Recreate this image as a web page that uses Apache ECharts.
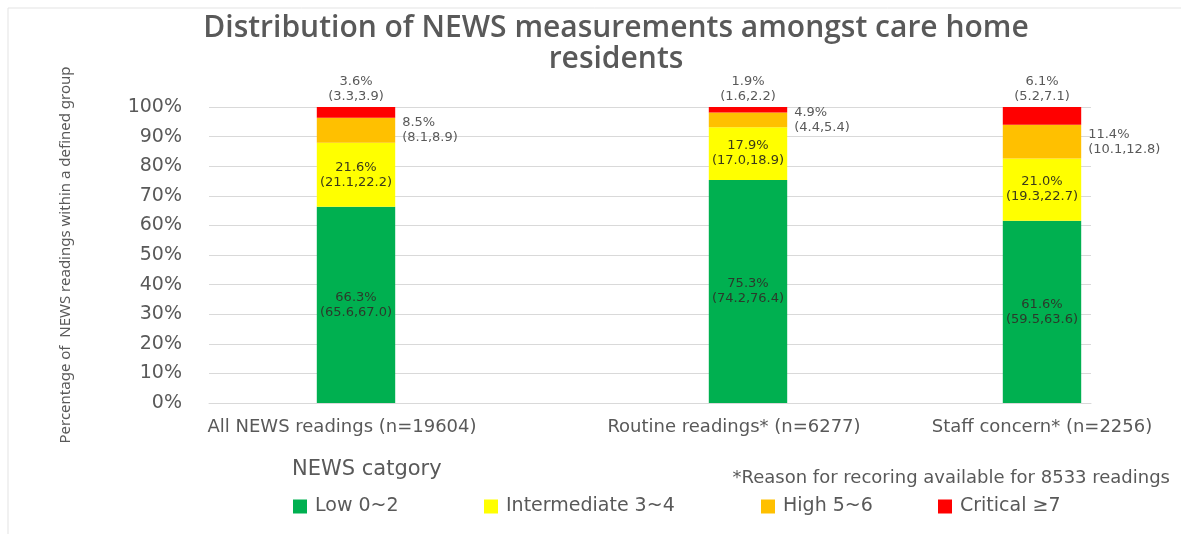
<!DOCTYPE html>
<html>
<head>
<meta charset="utf-8">
<script src="https://cdn.jsdelivr.net/npm/echarts@6/dist/echarts.min.js"></script>
<style>
  html, body { margin: 0; padding: 0; background: #fff; }
  #chart { width: 1181px; height: 534px; }
</style>
</head>
<body>
<div id="chart"></div>
<script>
// groups shown on the x axis
var groups = ['All NEWS readings (n=19604)', 'Routine readings* (n=6277)', 'Staff concern* (n=2256)'];
var newsCats = ['Low 0~2', 'Intermediate 3~4', 'High 5~6', 'Critical \u22657'];

// percentages per NEWS category, one value per group
var lowVals = [66.3, 75.3, 61.6];
var interVals = [21.6, 17.9, 21.0];
var highVals = [8.5, 4.9, 11.4];
var critVals = [3.6, 1.9, 6.1];

// 95% CI bounds
var lowCI = [[65.6, 67.0], [74.2, 76.4], [59.5, 63.6]];
var interCI = [[21.1, 22.2], [17.0, 18.9], [19.3, 22.7]];
var highCI = [[8.1, 8.9], [4.4, 5.4], [10.1, 12.8]];
var critCI = [[3.3, 3.9], [1.6, 2.2], [5.2, 7.1]];

var yTicks = [0, 10, 20, 30, 40, 50, 60, 70, 80, 90, 100];

var colors = ['#00B050', '#FFFF00', '#FFC000', '#FF0000'];
var grey = '#595959';
var font = 'DejaVu Sans';

// excel chart left gaps between the columns, so spread them over 9 slots
var slotOf = [1, 5, 8];
var labelShift = [28, 28, 0]; // labels sit a bit left of the bars
var slots = [];
for (var i = 0; i < 9; i++) slots.push('');
slotOf.forEach(function (s, k) {
  slots[s] = { value: groups[k], textStyle: { padding: [0, labelShift[k], 0, 0] } };
});

function spread(vals) {
  var arr = slots.map(function () { return '-'; });
  slotOf.forEach(function (s, k) { arr[s] = vals[k]; });
  return arr;
}

function labelFn(vals, ci) {
  return function (p) {
    var k = slotOf.indexOf(p.dataIndex);
    if (k < 0) return '';
    var c = ci[k];
    return vals[k].toFixed(1) + '%\n(' + c[0].toFixed(1) + ',' + c[1].toFixed(1) + ')';
  };
}

var seriesDefs = [
  { vals: lowVals, ci: lowCI, pos: 'inside', color: '#2b3a2b' },
  { vals: interVals, ci: interCI, pos: 'inside', color: '#3a3a1a' },
  { vals: highVals, ci: highCI, pos: 'right', color: grey },
  { vals: critVals, ci: critCI, pos: 'top', color: grey }
];

var series = seriesDefs.map(function (d, i) {
  return {
    name: newsCats[i],
    type: 'bar',
    stack: 'total',
    barWidth: '80%',
    data: spread(d.vals),
    itemStyle: { color: colors[i] },
    label: {
      show: true,
      position: d.pos,
      distance: d.pos === 'right' ? 7 : 3,
      formatter: labelFn(d.vals, d.ci),
      color: d.color,
      fontFamily: font,
      fontSize: 13,
      lineHeight: 15
    }
  };
});

var legendX = [288, 479, 756, 933];
var legends = newsCats.map(function (n, i) {
  return {
    data: [n],
    left: legendX[i],
    top: 492,
    itemWidth: 14,
    itemHeight: 14,
    itemGap: 6,
    icon: 'rect',
    selectedMode: false,
    textStyle: { color: grey, fontSize: 19, fontFamily: font, padding: [0, 0, 0, 3] }
  };
});

var chart = echarts.init(document.getElementById('chart'));
chart.setOption({
  animation: false,
  title: [
    {
      text: 'Distribution of NEWS measurements amongst care home\nresidents',
      left: 611,
      top: 8,
      textAlign: 'center',
      textStyle: { color: grey, fontSize: 30, fontWeight: 600, fontFamily: 'Open Sans', lineHeight: 31 }
    },
    {
      text: 'NEWS catgory',
      left: 287,
      top: 454,
      textStyle: { color: grey, fontSize: 21, fontWeight: 'normal', fontFamily: font }
    },
    {
      text: '*Reason for recoring available for 8533 readings',
      right: 6,
      top: 464,
      textStyle: { color: grey, fontSize: 18, fontWeight: 'normal', fontFamily: font }
    }
  ],
  legend: legends,
  grid: { left: 209, right: 90, top: 107, bottom: 131 },
  xAxis: {
    type: 'category',
    data: slots,
    axisLine: { lineStyle: { color: '#d9d9d9' } },
    axisTick: { show: false },
    axisLabel: { interval: 0, color: grey, fontSize: 18, fontFamily: font, margin: 15 }
  },
  yAxis: {
    type: 'value',
    min: yTicks[0],
    max: yTicks[yTicks.length - 1],
    interval: yTicks[1] - yTicks[0],
    name: 'Percentage of  NEWS readings within a defined group',
    nameLocation: 'middle',
    nameGap: 136,
    nameTextStyle: { color: grey, fontSize: 15, fontFamily: 'Noto Sans' },
    axisLine: { show: false },
    axisTick: { show: false },
    splitLine: { lineStyle: { color: '#d9d9d9' } },
    axisLabel: { color: grey, fontSize: 19, fontFamily: font, margin: 27, formatter: '{value}%' }
  },
  graphic: [
    {
      type: 'polyline',
      shape: { points: [[8, 534], [8, 8], [1181, 8]] },
      style: { stroke: '#e3e3e3', lineWidth: 1, fill: null }
    }
  ],
  series: series
});
</script>
</body>
</html>
